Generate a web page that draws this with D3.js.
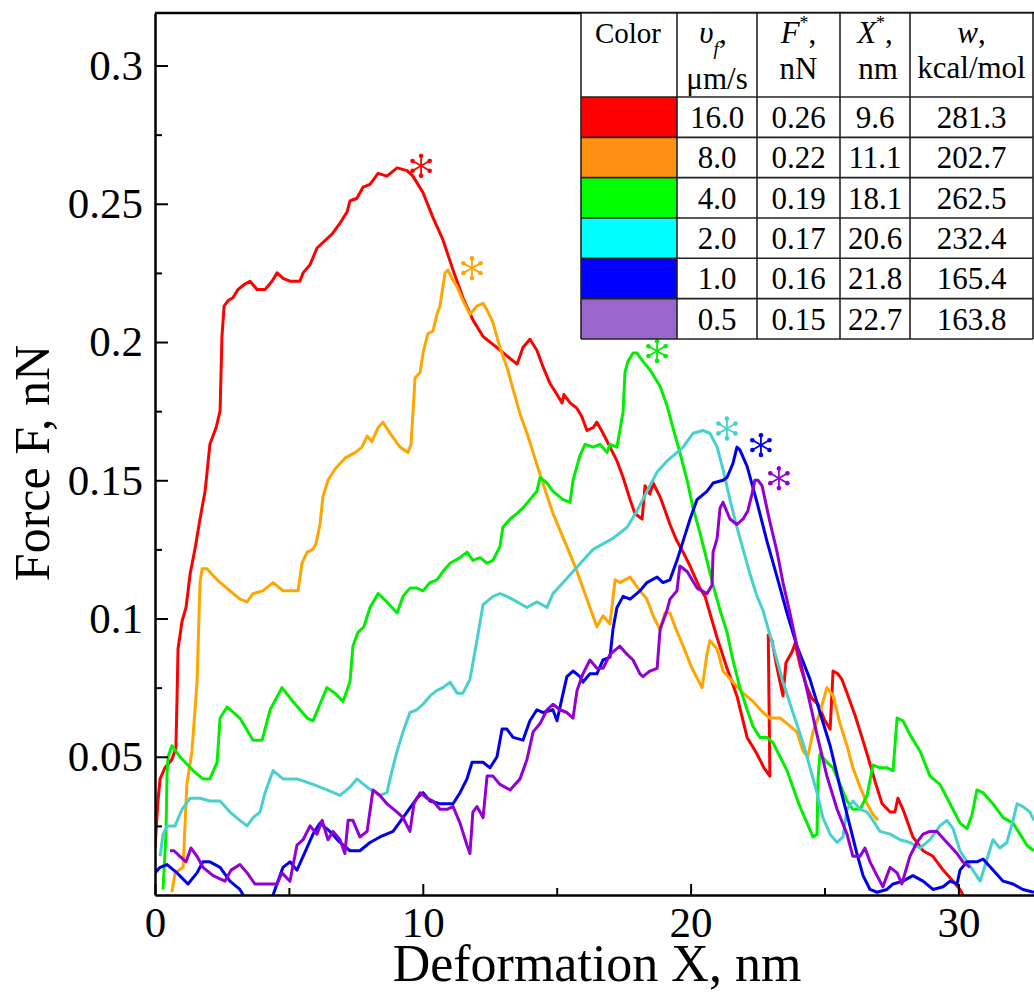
<!DOCTYPE html>
<html>
<head>
<meta charset="utf-8">
<script src="https://cdn.jsdelivr.net/npm/d3@7"></script>
<style>
  body { margin: 0; background: #fff; }
  svg { display: block; font-family: "Liberation Serif", "Times New Roman", serif; }
</style>
</head>
<body>
<svg id="chart" width="1034" height="992"></svg>
<script>
// Force–deformation curves [deformation X (nm), force F (nN)] for each pulling speed
const curveV16 = [[0.00,0.017],[0.11,0.034],[0.19,0.042],[0.37,0.046],[0.63,0.049],[0.78,0.053],[0.82,0.070],[0.86,0.089],[1.01,0.099],[1.16,0.104],[1.31,0.116],[1.49,0.125],[1.68,0.136],[1.87,0.146],[2.05,0.163],[2.28,0.169],[2.43,0.175],[2.50,0.202],[2.58,0.213],[2.73,0.215],[2.91,0.216],[3.10,0.219],[3.36,0.221],[3.55,0.222],[3.81,0.219],[4.11,0.219],[4.37,0.222],[4.56,0.225],[4.78,0.223],[5.04,0.222],[5.41,0.222],[5.53,0.225],[5.79,0.228],[6.05,0.234],[6.27,0.236],[6.61,0.239],[6.91,0.243],[7.17,0.247],[7.28,0.251],[7.54,0.252],[7.77,0.256],[8.03,0.257],[8.33,0.261],[8.66,0.260],[9.04,0.263],[9.41,0.262],[9.63,0.260],[10.01,0.254],[10.38,0.245],[10.75,0.237],[11.13,0.226],[11.50,0.216],[11.87,0.208],[12.25,0.202],[12.77,0.198],[13.14,0.195],[13.52,0.192],[13.74,0.198],[14.00,0.201],[14.26,0.197],[14.49,0.191],[14.75,0.185],[15.01,0.181],[15.20,0.178],[15.27,0.181],[15.50,0.178],[15.76,0.176],[15.94,0.173],[16.13,0.168],[16.36,0.169],[16.50,0.171],[16.73,0.167],[16.99,0.162],[17.25,0.157],[17.48,0.151],[17.74,0.143],[17.92,0.138],[18.19,0.136],[18.30,0.148],[18.48,0.145],[18.60,0.149],[18.86,0.144],[19.05,0.139],[19.23,0.134],[19.49,0.128],[19.72,0.124],[19.98,0.119],[20.16,0.115],[20.35,0.111],[20.54,0.108],[20.72,0.102],[20.99,0.093],[21.36,0.082],[21.73,0.072],[22.11,0.057],[22.48,0.051],[22.74,0.046],[22.96,0.043],[22.90,0.094],[23.04,0.092],[23.23,0.082],[23.45,0.072],[23.56,0.084],[23.79,0.088],[23.90,0.091],[24.09,0.083],[24.31,0.076],[24.53,0.071],[24.76,0.069],[25.02,0.063],[25.21,0.060],[25.32,0.081],[25.50,0.080],[25.65,0.078],[25.88,0.072],[26.14,0.065],[26.40,0.057],[26.62,0.050],[26.89,0.041],[27.15,0.033],[27.45,0.030],[27.63,0.030],[27.74,0.035],[27.93,0.031],[28.30,0.021],[28.68,0.016],[29.05,0.014],[29.43,0.009],[29.80,0.005],[30.06,0.002],[30.17,0.000]];

const curveV8 = [[0.63,0.001],[0.75,0.008],[1.05,0.010],[1.19,0.040],[1.38,0.052],[1.57,0.077],[1.68,0.113],[1.76,0.118],[1.94,0.118],[2.32,0.114],[2.80,0.110],[3.17,0.107],[3.44,0.106],[3.66,0.109],[4.03,0.110],[4.41,0.113],[4.78,0.110],[5.15,0.110],[5.34,0.110],[5.49,0.120],[5.68,0.124],[5.90,0.125],[6.01,0.127],[6.16,0.134],[6.27,0.144],[6.46,0.150],[6.72,0.154],[7.09,0.158],[7.47,0.160],[7.73,0.162],[7.92,0.166],[8.10,0.164],[8.33,0.169],[8.51,0.171],[8.78,0.167],[9.15,0.162],[9.45,0.160],[9.56,0.163],[9.63,0.174],[9.71,0.187],[9.90,0.189],[10.01,0.196],[10.19,0.203],[10.38,0.204],[10.53,0.210],[10.64,0.213],[10.72,0.218],[10.83,0.225],[10.94,0.226],[11.09,0.223],[11.28,0.220],[11.50,0.215],[11.76,0.210],[12.02,0.213],[12.25,0.214],[12.43,0.211],[12.62,0.207],[12.88,0.198],[13.14,0.191],[13.37,0.183],[13.63,0.174],[13.89,0.167],[14.12,0.160],[14.38,0.152],[14.86,0.138],[15.38,0.126],[15.76,0.117],[16.13,0.107],[16.50,0.097],[16.73,0.101],[16.99,0.098],[17.18,0.114],[17.36,0.113],[17.74,0.115],[18.11,0.110],[18.37,0.107],[18.60,0.101],[18.86,0.096],[19.04,0.102],[19.23,0.102],[19.42,0.097],[19.72,0.090],[20.05,0.082],[20.43,0.075],[20.61,0.087],[20.72,0.092],[20.99,0.089],[21.21,0.081],[21.58,0.077],[21.96,0.073],[22.33,0.070],[22.70,0.066],[22.96,0.064],[23.34,0.064],[23.60,0.062],[23.97,0.059],[24.20,0.052],[24.38,0.050],[24.57,0.059],[24.83,0.066],[25.09,0.075],[25.32,0.072],[25.58,0.062],[25.84,0.054],[26.06,0.046],[26.33,0.039],[26.59,0.033],[26.81,0.029],[27.00,0.027]];

const curveV4 = [[0.30,0.002],[0.41,0.022],[0.45,0.044],[0.49,0.050],[0.63,0.054],[0.93,0.050],[1.42,0.045],[1.79,0.042],[2.05,0.042],[2.32,0.048],[2.43,0.064],[2.69,0.068],[3.17,0.064],[3.66,0.056],[4.00,0.056],[4.30,0.067],[4.74,0.075],[5.15,0.070],[5.68,0.064],[5.90,0.063],[6.16,0.069],[6.42,0.075],[6.72,0.073],[7.02,0.070],[7.28,0.077],[7.39,0.090],[7.58,0.095],[7.80,0.097],[8.03,0.104],[8.33,0.109],[8.66,0.106],[9.04,0.102],[9.26,0.108],[9.52,0.111],[9.78,0.111],[10.01,0.110],[10.27,0.113],[10.53,0.114],[10.75,0.117],[11.02,0.120],[11.39,0.122],[11.65,0.124],[11.87,0.121],[12.14,0.122],[12.40,0.120],[12.62,0.121],[12.88,0.126],[12.99,0.133],[13.26,0.136],[13.52,0.138],[13.74,0.140],[14.00,0.143],[14.26,0.146],[14.38,0.151],[14.64,0.149],[14.86,0.146],[15.24,0.143],[15.50,0.142],[15.61,0.150],[15.87,0.159],[16.06,0.163],[16.36,0.162],[16.62,0.163],[16.88,0.160],[16.99,0.163],[17.25,0.162],[17.36,0.168],[17.48,0.175],[17.55,0.189],[17.66,0.193],[17.85,0.196],[18.00,0.196],[18.22,0.193],[18.48,0.190],[18.86,0.184],[19.12,0.177],[19.34,0.169],[19.60,0.160],[19.87,0.150],[20.09,0.140],[20.35,0.131],[20.61,0.121],[20.84,0.112],[21.10,0.103],[21.36,0.095],[21.58,0.085],[21.84,0.075],[22.11,0.067],[22.33,0.061],[22.59,0.057],[22.85,0.057],[23.08,0.055],[23.34,0.050],[23.60,0.045],[23.82,0.039],[24.08,0.032],[24.35,0.026],[24.57,0.021],[24.72,0.022],[24.76,0.042],[24.83,0.051],[25.09,0.048],[25.32,0.046],[25.58,0.040],[25.84,0.034],[26.06,0.031],[26.33,0.031],[26.59,0.036],[26.81,0.047],[27.07,0.046],[27.33,0.046],[27.56,0.045],[27.71,0.064],[27.93,0.063],[28.19,0.058],[28.57,0.052],[28.94,0.043],[29.31,0.040],[29.69,0.033],[30.06,0.026],[30.32,0.024],[30.51,0.029],[30.69,0.038],[30.92,0.037],[31.29,0.033],[31.67,0.028],[32.04,0.026],[32.30,0.022],[32.56,0.018],[32.82,0.016]];

const curveV2 = [[0.19,0.014],[0.30,0.022],[0.45,0.025],[0.75,0.025],[1.01,0.031],[1.31,0.035],[1.68,0.035],[2.05,0.034],[2.43,0.034],[2.80,0.030],[3.17,0.027],[3.44,0.025],[3.66,0.028],[3.92,0.030],[4.11,0.037],[4.41,0.045],[4.78,0.042],[5.30,0.042],[5.90,0.040],[6.42,0.038],[6.91,0.036],[7.28,0.039],[7.54,0.042],[7.92,0.039],[8.40,0.036],[8.66,0.037],[8.85,0.045],[9.04,0.052],[9.26,0.059],[9.52,0.066],[9.78,0.067],[10.01,0.069],[10.27,0.072],[10.53,0.074],[10.75,0.075],[11.02,0.077],[11.28,0.073],[11.50,0.073],[11.76,0.078],[12.02,0.092],[12.25,0.105],[12.62,0.108],[12.88,0.109],[13.14,0.108],[13.52,0.106],[13.89,0.104],[14.26,0.106],[14.64,0.104],[14.86,0.109],[15.24,0.113],[15.61,0.117],[15.98,0.121],[16.36,0.125],[16.73,0.127],[17.10,0.129],[17.63,0.133],[18.00,0.139],[18.37,0.146],[18.75,0.153],[19.12,0.157],[19.49,0.160],[19.72,0.162],[20.09,0.167],[20.46,0.168],[20.72,0.167],[20.99,0.162],[21.21,0.154],[21.47,0.143],[21.73,0.133],[21.96,0.125],[22.22,0.116],[22.48,0.108],[22.70,0.103],[23.08,0.090],[23.45,0.077],[23.82,0.066],[24.20,0.055],[24.46,0.046],[24.72,0.037],[24.94,0.028],[25.21,0.022],[25.47,0.019],[25.69,0.021],[25.84,0.031],[26.06,0.034],[26.33,0.031],[26.59,0.030],[26.81,0.027],[27.07,0.023],[27.45,0.022],[27.82,0.020],[28.19,0.019],[28.57,0.017],[28.94,0.020],[29.31,0.025],[29.57,0.027],[29.80,0.024],[30.06,0.016],[30.32,0.012],[30.54,0.009],[30.81,0.005],[31.07,0.013],[31.29,0.020],[31.55,0.017],[31.81,0.019],[32.04,0.027],[32.19,0.033],[32.41,0.032],[32.67,0.030],[32.82,0.027]];

const curveV1 = [[0.00,0.008],[0.19,0.010],[0.45,0.011],[0.82,0.008],[1.23,0.004],[1.57,0.008],[1.79,0.012],[2.05,0.012],[2.43,0.010],[2.80,0.005],[3.17,0.002],[3.36,-0.001],[3.73,-0.004],[4.11,-0.004],[4.41,0.000],[4.59,0.005],[4.78,0.010],[5.04,0.012],[5.30,0.009],[5.53,0.014],[5.90,0.022],[6.16,0.026],[6.53,0.023],[6.91,0.019],[7.28,0.016],[7.65,0.016],[8.03,0.019],[8.40,0.021],[8.89,0.023],[9.41,0.030],[9.78,0.035],[10.01,0.037],[10.27,0.034],[10.64,0.033],[11.13,0.033],[11.39,0.037],[11.65,0.042],[11.84,0.048],[12.02,0.048],[12.25,0.048],[12.51,0.046],[12.77,0.050],[12.96,0.060],[13.14,0.060],[13.37,0.057],[13.74,0.056],[14.00,0.063],[14.26,0.067],[14.49,0.066],[14.86,0.067],[15.01,0.063],[15.24,0.073],[15.38,0.079],[15.61,0.081],[15.87,0.079],[15.98,0.077],[16.24,0.080],[16.50,0.080],[16.73,0.085],[16.99,0.086],[17.10,0.096],[17.25,0.104],[17.48,0.108],[17.74,0.107],[18.11,0.110],[18.37,0.113],[18.75,0.115],[18.97,0.113],[19.23,0.114],[19.49,0.121],[19.72,0.128],[19.98,0.136],[20.24,0.143],[20.61,0.146],[20.84,0.149],[21.21,0.150],[21.36,0.151],[21.58,0.156],[21.73,0.162],[21.84,0.161],[22.11,0.155],[22.48,0.142],[22.85,0.128],[23.23,0.115],[23.60,0.102],[23.97,0.090],[24.46,0.078],[24.83,0.066],[25.21,0.054],[25.58,0.039],[25.95,0.025],[26.21,0.015],[26.44,0.007],[26.70,0.002],[26.96,0.001],[27.33,0.002],[27.56,0.004],[27.93,0.005],[28.30,0.007],[28.68,0.005],[29.05,0.002],[29.43,0.003],[29.69,0.005],[29.95,0.004],[30.06,0.009],[30.32,0.012],[30.69,0.012],[30.92,0.013],[31.29,0.009],[31.67,0.005],[32.04,0.004],[32.41,0.002],[32.82,0.001]];

const curveV05 = [[0.56,0.016],[0.71,0.016],[0.93,0.014],[1.16,0.012],[1.34,0.017],[1.57,0.014],[1.79,0.010],[2.17,0.007],[2.61,0.005],[2.84,0.009],[3.17,0.011],[3.44,0.008],[3.73,0.004],[4.11,0.004],[4.56,0.004],[4.74,0.008],[5.04,0.005],[5.30,0.018],[5.53,0.020],[5.79,0.025],[6.05,0.022],[6.24,0.027],[6.46,0.020],[6.65,0.023],[6.91,0.020],[7.09,0.015],[7.21,0.027],[7.39,0.027],[7.65,0.021],[7.92,0.023],[8.14,0.038],[8.40,0.036],[8.66,0.033],[9.04,0.030],[9.26,0.028],[9.52,0.023],[9.67,0.033],[9.90,0.037],[10.16,0.035],[10.38,0.034],[10.64,0.031],[10.90,0.031],[11.13,0.032],[11.39,0.026],[11.65,0.018],[11.76,0.015],[11.87,0.030],[12.02,0.032],[12.25,0.028],[12.40,0.043],[12.62,0.043],[12.88,0.040],[13.26,0.038],[13.63,0.042],[13.89,0.049],[14.12,0.059],[14.38,0.062],[14.64,0.067],[14.86,0.069],[15.12,0.067],[15.38,0.066],[15.61,0.064],[15.76,0.074],[15.98,0.080],[16.24,0.085],[16.50,0.082],[16.73,0.082],[16.99,0.087],[17.36,0.090],[17.63,0.087],[17.85,0.085],[18.11,0.080],[18.22,0.079],[18.48,0.081],[18.75,0.082],[18.86,0.096],[19.12,0.103],[19.23,0.107],[19.49,0.110],[19.60,0.119],[19.87,0.117],[20.24,0.111],[20.61,0.109],[20.80,0.112],[20.84,0.124],[20.99,0.129],[21.10,0.140],[21.21,0.142],[21.47,0.136],[21.73,0.134],[21.96,0.136],[22.14,0.139],[22.29,0.145],[22.40,0.150],[22.52,0.150],[22.67,0.148],[22.78,0.143],[22.96,0.135],[23.23,0.124],[23.45,0.113],[23.71,0.102],[23.97,0.090],[24.35,0.074],[24.72,0.058],[25.09,0.043],[25.47,0.031],[25.84,0.022],[26.06,0.014],[26.33,0.014],[26.51,0.017],[26.70,0.012],[26.96,0.007],[27.18,0.003],[27.33,0.007],[27.45,0.010],[27.71,0.008],[27.89,0.004],[28.19,0.014],[28.45,0.019],[28.68,0.022],[28.94,0.023],[29.20,0.023],[29.57,0.019],[29.95,0.015],[30.17,0.012],[30.43,0.010]];

// Table contents: pulling speed, peak force, peak position, work
const speeds = ["16.0", "8.0", "4.0", "2.0", "1.0", "0.5"];
const peakForces = ["0.26", "0.22", "0.19", "0.17", "0.16", "0.15"];
const peakPositions = ["9.6", "11.1", "18.1", "20.6", "21.8", "22.7"];
const works = ["281.3", "202.7", "262.5", "232.4", "165.4", "163.8"];

const lineColors = ["#ff0000", "#ffa500", "#00ee00", "#48d1cc", "#0000ee", "#9400d3"];
const swatchColors = ["#ff0000", "#ff9010", "#00ff00", "#00ffff", "#0000ff", "#9966cc"];

const xMajorTicks = [0, 10, 20, 30];
const xMinorTicks = [5, 15, 25];
const yMajorTicks = [0.05, 0.1, 0.15, 0.2, 0.25, 0.3];
const yMinorTicks = [0.025, 0.075, 0.125, 0.175, 0.225, 0.275];

const curves = [curveV16, curveV8, curveV4, curveV2, curveV1, curveV05];

// ---------- layout ----------
const serif = "'Liberation Serif', 'Times New Roman', serif";
const svg = d3.select("#chart").attr("font-family", serif);
const W = 1034, H = 992;
const plotLeft = 155, plotTop = 13, plotBottom = 895;
const pxPerNm = 26.78;

const x = d3.scaleLinear().domain([0, 33]).range([plotLeft, plotLeft + 33 * pxPerNm]);
const y = d3.scaleLinear().domain([0, 0.319]).range([plotBottom, plotTop]);

svg.append("rect").attr("width", W).attr("height", H).attr("fill", "#fff");

svg.append("clipPath").attr("id", "plot-clip")
  .append("rect")
  .attr("x", plotLeft).attr("y", plotTop)
  .attr("width", W - plotLeft).attr("height", plotBottom - plotTop);

// ---------- curves ----------
const line = d3.line().x(d => x(d[0])).y(d => y(d[1]));
const plot = svg.append("g").attr("clip-path", "url(#plot-clip)");
plot.selectAll("path.curve")
  .data(curves)
  .join("path")
  .attr("class", "curve")
  .attr("d", line)
  .attr("fill", "none")
  .attr("stroke", (d, i) => lineColors[i])
  .attr("stroke-width", 3)
  .attr("stroke-linejoin", "round");

// peak markers: a six-spoked asterisk just to the right of each curve's maximum
const spokes = d3.range(6).map(k => k * Math.PI / 3);
const markerR = 12;
const markers = svg.append("g").selectAll("g")
  .data(curves)
  .join("g")
  .attr("transform", d => {
    const peak = d3.greatest(d, p => p[1]);
    return `translate(${x(peak[0]) + 24},${y(peak[1]) - 2})`;
  })
  .attr("stroke", (d, i) => lineColors[i])
  .attr("fill", (d, i) => lineColors[i]);
markers.selectAll("line")
  .data(spokes)
  .join("line")
  .attr("x1", 0).attr("y1", 0)
  .attr("x2", a => markerR * Math.sin(a))
  .attr("y2", a => -markerR * Math.cos(a))
  .attr("stroke-width", 1.8);
markers.selectAll("circle")
  .data(spokes)
  .join("circle")
  .attr("cx", a => (markerR - 2.2) * Math.sin(a))
  .attr("cy", a => -(markerR - 2.2) * Math.cos(a))
  .attr("r", 2.3)
  .attr("stroke", "none");

// ---------- axes ----------
const tickFont = 43;
svg.append("g").attr("transform", `translate(0,${plotBottom})`)
  .call(d3.axisBottom(x).tickValues(xMajorTicks).tickFormat(d3.format("d"))
    .tickSizeInner(-11).tickSizeOuter(0).tickPadding(11));
svg.append("g").attr("transform", `translate(0,${plotBottom})`)
  .call(d3.axisBottom(x).tickValues(xMinorTicks).tickFormat(() => "")
    .tickSizeInner(-7).tickSizeOuter(0))
  .call(g => g.select(".domain").remove());

svg.append("g").attr("transform", `translate(${plotLeft},0)`)
  .call(d3.axisLeft(y).tickValues(yMajorTicks).tickFormat(d => String(d))
    .tickSizeInner(-13).tickSizeOuter(0).tickPadding(12));
svg.append("g").attr("transform", `translate(${plotLeft},0)`)
  .call(d3.axisLeft(y).tickValues(yMinorTicks).tickFormat(() => "")
    .tickSizeInner(-7).tickSizeOuter(0))
  .call(g => g.select(".domain").remove());

svg.selectAll(".domain").attr("stroke", "#000").attr("stroke-width", 2.5);
svg.selectAll(".tick line").attr("stroke", "#000").attr("stroke-width", 2);
svg.selectAll("g").filter(function () { return this.getAttribute("font-family") === "sans-serif"; })
  .attr("font-family", serif).attr("font-size", tickFont);
svg.selectAll(".tick text").attr("fill", "#000");

// top frame line
svg.append("line")
  .attr("x1", plotLeft).attr("x2", W)
  .attr("y1", plotTop).attr("y2", plotTop)
  .attr("stroke", "#000").attr("stroke-width", 2.5);

// axis titles
svg.append("text")
  .attr("x", 597).attr("y", 981)
  .attr("text-anchor", "middle")
  .attr("font-size", 52)
  .text("Deformation X, nm");

svg.append("text")
  .attr("transform", "translate(49,463) rotate(-90)")
  .attr("text-anchor", "middle")
  .attr("font-size", 50)
  .text("Force F, nN");

// ---------- table ----------
const colEdges = [581, 677, 757, 840, 910, 1033];
const headerTop = 13, headerBottom = 97, rowH = 40.33;
const tableFont = 31;
const table = svg.append("g").attr("font-family", serif);
const colCenter = i => (colEdges[i] + colEdges[i + 1]) / 2;
const tableBottom = headerBottom + rowH * speeds.length;

table.append("rect")
  .attr("x", colEdges[0]).attr("y", headerTop)
  .attr("width", colEdges[5] - colEdges[0]).attr("height", tableBottom - headerTop)
  .attr("fill", "#fff");

// colour swatches
table.selectAll("rect.swatch")
  .data(swatchColors)
  .join("rect")
  .attr("class", "swatch")
  .attr("x", colEdges[0]).attr("y", (d, i) => headerBottom + i * rowH)
  .attr("width", colEdges[1] - colEdges[0]).attr("height", rowH)
  .attr("fill", d => d);

// numbers
const columns = [speeds, peakForces, peakPositions, works];
columns.forEach((col, c) => {
  table.append("g").selectAll("text")
    .data(col)
    .join("text")
    .attr("x", colCenter(c + 1))
    .attr("y", (d, i) => headerBottom + i * rowH + 31)
    .attr("text-anchor", "middle")
    .attr("font-size", tableFont)
    .text(d => d);
});

// header
const hdr = table.append("g").attr("font-size", tableFont).attr("text-anchor", "middle");
hdr.append("text").attr("x", colCenter(0) - 1).attr("y", 43).attr("font-size", 29).text("Color");

const h1 = hdr.append("text").attr("x", colCenter(1) - 4).attr("y", 43);
h1.append("tspan").attr("font-style", "italic").text("υ");
h1.append("tspan").attr("font-style", "italic").attr("font-size", 19).attr("dy", 12).text("f");
h1.append("tspan").attr("dy", -12).text(",");
hdr.append("text").attr("x", colCenter(1)).attr("y", 89).text("μm/s");

const h2 = hdr.append("text").attr("x", colCenter(2)).attr("y", 43);
h2.append("tspan").attr("font-style", "italic").text("F");
h2.append("tspan").attr("font-size", 18).attr("dy", -14).text("*");
h2.append("tspan").attr("dy", 14).text(",");
hdr.append("text").attr("x", colCenter(2)).attr("y", 79).text("nN");

const h3 = hdr.append("text").attr("x", colCenter(3)).attr("y", 43);
h3.append("tspan").attr("font-style", "italic").text("X");
h3.append("tspan").attr("font-size", 18).attr("dy", -14).text("*");
h3.append("tspan").attr("dy", 14).text(",");
hdr.append("text").attr("x", colCenter(3) + 3).attr("y", 79).text("nm");

const h4 = hdr.append("text").attr("x", colCenter(4)).attr("y", 43);
h4.append("tspan").attr("font-style", "italic").text("w");
h4.append("tspan").text(",");
hdr.append("text").attr("x", colCenter(4)).attr("y", 78).text("kcal/mol");

// grid lines
const grid = table.append("g").attr("stroke", "#222").attr("stroke-width", 1.6);
colEdges.forEach(cx => {
  grid.append("line").attr("x1", cx).attr("x2", cx).attr("y1", headerTop).attr("y2", tableBottom);
});
const rowEdges = [headerTop, headerBottom].concat(d3.range(1, speeds.length + 1).map(i => headerBottom + i * rowH));
rowEdges.forEach(ry => {
  grid.append("line").attr("x1", colEdges[0]).attr("x2", colEdges[5]).attr("y1", ry).attr("y2", ry);
});
</script>
</body>
</html>
